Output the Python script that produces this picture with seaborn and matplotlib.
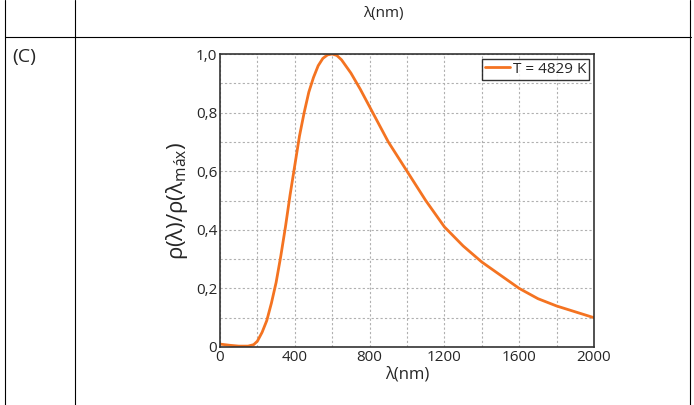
import matplotlib
matplotlib.use("Agg")
import matplotlib.pyplot as plt
import seaborn as sns
import pandas as pd
from matplotlib.lines import Line2D

# curve values
wavelength = [0, 50, 100, 150, 180, 200, 225, 250, 275, 300, 325, 350, 375, 400, 425, 450,
              475, 500, 525, 550, 575, 600, 625, 650, 700, 750, 800, 850, 900, 950, 1000,
              1100, 1200, 1300, 1400, 1500, 1600, 1700, 1800, 1900, 2000]
ratio = [0.01, 0.006, 0.003, 0.003, 0.008, 0.02, 0.05, 0.09, 0.15, 0.22, 0.31, 0.41, 0.52,
         0.62, 0.72, 0.80, 0.87, 0.92, 0.96, 0.985, 0.997, 1.0, 0.995, 0.98, 0.935, 0.88,
         0.82, 0.76, 0.70, 0.65, 0.60, 0.50, 0.41, 0.345, 0.29, 0.245, 0.20, 0.165, 0.14,
         0.12, 0.10]
df = pd.DataFrame({"wl": wavelength, "r": ratio})
orange = "#f47321"

sns.set_style("white")
plt.rcParams["font.family"] = ["Open Sans", "DejaVu Sans"]

fig = plt.figure(figsize=(6.94, 4.05), dpi=100)

# table frame
for y in [37 / 405]:
    fig.add_artist(Line2D([0.007, 0.995], [1 - y, 1 - y], color="black", lw=0.8))
for x in [5 / 694, 75 / 694, 690 / 694]:
    fig.add_artist(Line2D([x, x], [0, 1], color="black", lw=0.8))
fig.text(383 / 694, 1 - 13 / 405, "λ(nm)", ha="center", va="center", fontsize=11)
fig.text(12 / 694, 1 - 57 / 405, "(C)", ha="left", va="center", fontsize=14)

ax = fig.add_axes([220 / 694, 58 / 405, 374 / 694, 293 / 405])
sns.lineplot(data=df, x="wl", y="r", ax=ax, color=orange, lw=2, label="T = 4829 K")
ax.set_xlim(0, 2000)
ax.set_ylim(0, 1.0)
ax.set_xticks(range(0, 2001, 200), minor=True)
ax.set_yticks([i / 10 for i in range(11)], minor=True)
ax.set_xticks(range(0, 2001, 400))
ax.set_yticks([0, 0.2, 0.4, 0.6, 0.8, 1.0])
ax.set_yticklabels(["0", "0,2", "0,4", "0,6", "0,8", "1,0"])
ax.grid(True, which="both", color="#b0b0b0", ls=(0, (2, 2)), lw=0.8)
ax.tick_params(labelsize=11, length=0, pad=2)
for s in ax.spines.values():
    s.set_color("#333333")
    s.set_linewidth(1.2)
ax.set_xlabel("λ(nm)", fontsize=12, labelpad=1)
ax.set_ylabel("ρ(λ)/ρ(λ$_{\\mathregular{máx}}$)", fontsize=16, labelpad=4)
leg = ax.legend(loc="upper right", fontsize=11, frameon=True, fancybox=False,
                handlelength=1.6, handletextpad=0.2, borderpad=0.2,
                borderaxespad=0.3)
leg.get_frame().set_edgecolor("black")
leg.get_frame().set_linewidth(1.0)

fig.savefig("out.png", dpi=100)
